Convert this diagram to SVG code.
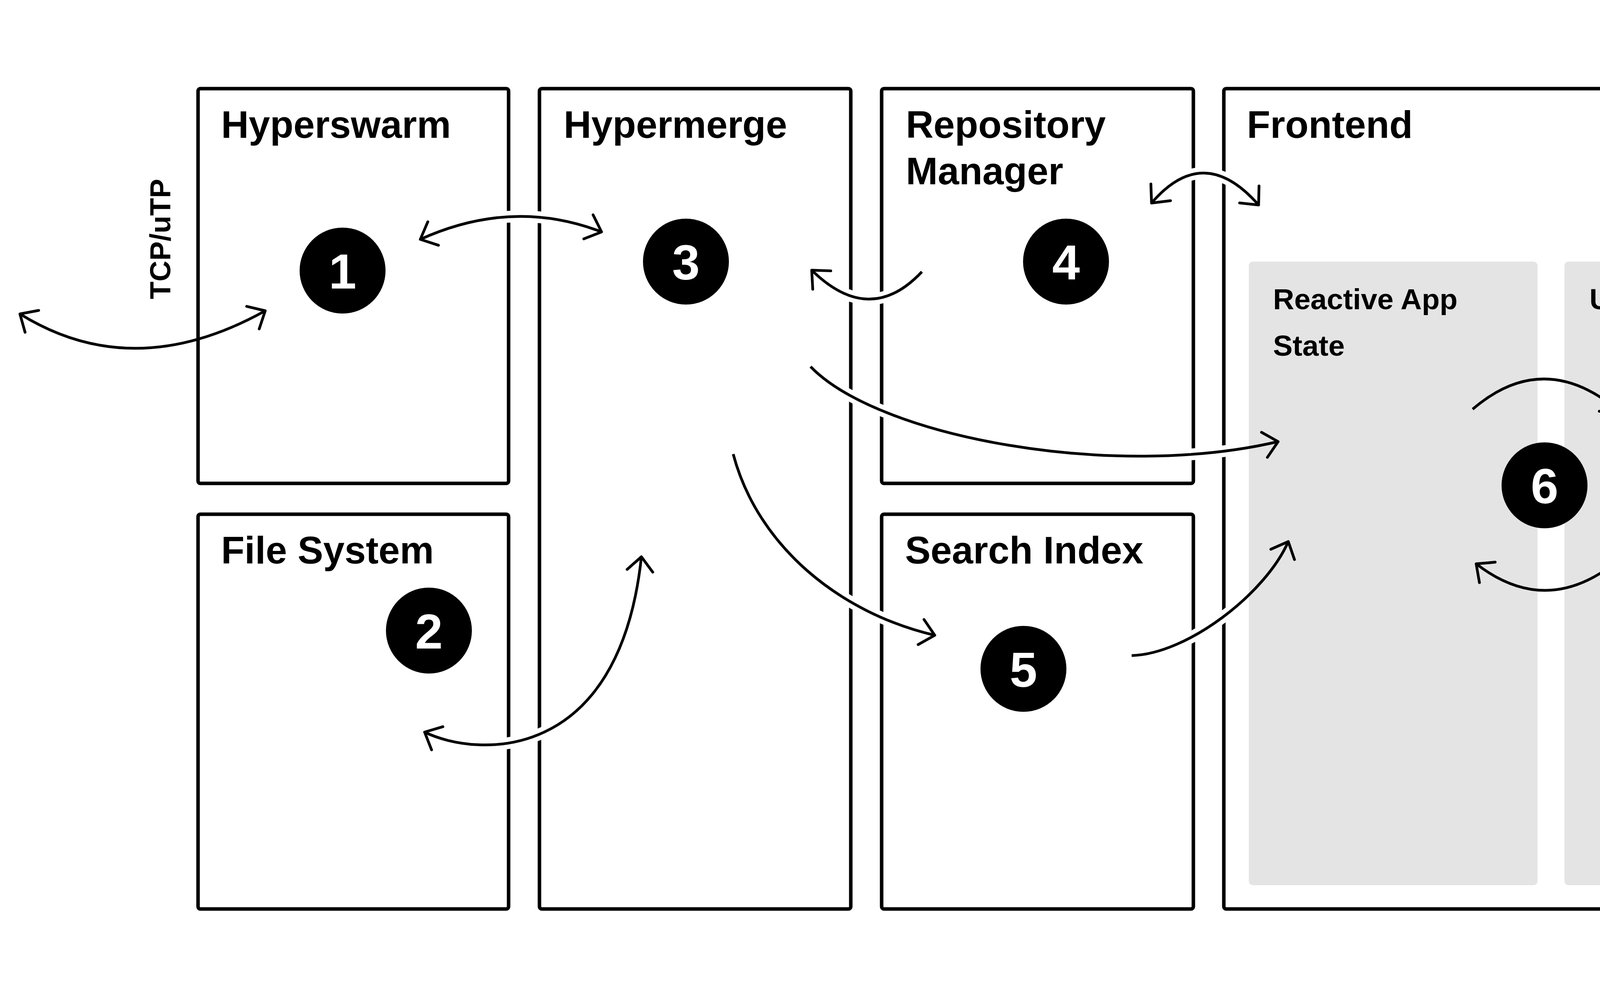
<svg xmlns="http://www.w3.org/2000/svg" width="5310" height="2556" viewBox="0 0 5310 2556">
  <style>
    .box { fill: #ffffff; stroke: #000000; stroke-width: 9; }
    .panel { fill: #e4e4e4; stroke: none; }
    .title { font-family: "Liberation Sans", Arial, sans-serif; font-weight: 700; font-size: 98px; fill: #000000; }
    .sub { font-family: "Liberation Sans", Arial, sans-serif; font-weight: 700; font-size: 75px; fill: #000000; }
    .proto { font-family: "Liberation Sans", Arial, sans-serif; font-weight: 700; font-size: 74px; fill: #000000; }
    .badge { fill: #000000; }
    .num { font-family: "Liberation Sans", Arial, sans-serif; font-weight: 700; font-size: 127px; fill: #ffffff; text-anchor: middle; }
    .halo { fill: none; stroke: #ffffff; stroke-width: 30; }
    .conn { fill: none; stroke: #000000; stroke-width: 7; }
    .one { marker-end: url(#head); }
    .two { marker-start: url(#head); marker-end: url(#head); }
  </style>
  <defs>
    <marker id="head" markerUnits="userSpaceOnUse" viewBox="-50 -45 60 90" refX="0" refY="0" markerWidth="60" markerHeight="90" orient="auto-start-reverse" overflow="visible">
      <path d="M -36 -33 L 0 0 L -36 33" fill="none" stroke="#000000" stroke-width="7" stroke-linecap="round" stroke-linejoin="round"/>
    </marker>
  </defs>
  <rect x="0" y="0" width="5310" height="2556" fill="#ffffff"/>

  <g id="node-hyperswarm">
    <rect class="box" x="507" y="227" width="795" height="1011" rx="6"/>
    <text class="title" x="566" y="353">Hyperswarm</text>
  </g>
  <g id="node-file-system">
    <rect class="box" x="507" y="1317" width="795" height="1011" rx="6"/>
    <text class="title" x="566" y="1443">File System</text>
  </g>
  <g id="node-hypermerge">
    <rect class="box" x="1381" y="227" width="797" height="2101" rx="6"/>
    <text class="title" x="1443" y="353">Hypermerge</text>
  </g>
  <g id="node-repository-manager">
    <rect class="box" x="2257" y="227" width="798" height="1011" rx="6"/>
    <text class="title" x="2319" y="353">Repository</text>
    <text class="title" x="2319" y="472">Manager</text>
  </g>
  <g id="node-search-index">
    <rect class="box" x="2257" y="1317" width="798" height="1011" rx="6"/>
    <text class="title" x="2317" y="1443">Search Index</text>
  </g>
  <g id="node-frontend">
    <rect class="box" x="3133" y="227" width="1673" height="2101" rx="6"/>
    <text class="title" x="3192" y="353">Frontend</text>
  </g>

  <g id="connector-gaps">
    <path class="halo" d="M 1076 613 Q 1312 506 1540 594"/>
    <path class="halo" d="M 1087 1875 C 1220 1940 1585 1960 1642 1426"/>
    <path class="halo" d="M 2360 696 Q 2227 838 2078 692"/>
    <path class="halo" d="M 2948 520 Q 3081 364 3222 525"/>
    <path class="halo" d="M 2075 939 C 2250 1120 2850 1230 3272 1131"/>
    <path class="halo" d="M 1877 1163 C 1940 1400 2150 1570 2393 1627"/>
    <path class="halo" d="M 2897 1679 C 3040 1675 3240 1520 3298 1387"/>
  </g>

  <g id="node-reactive-app-state">
    <rect class="panel" x="3197" y="670" width="739" height="1597" rx="10"/>
    <text class="sub" x="3259" y="792">Reactive App</text>
    <text class="sub" x="3259" y="911">State</text>
  </g>
  <g id="node-ui-framework">
    <rect class="panel" x="4005" y="670" width="738" height="1597" rx="10"/>
    <text class="sub" x="4069" y="792">UI Framework</text>
  </g>

  <g id="connectors">
    <path id="c-net-1" class="conn two" d="M 51 804 Q 341 984 679 796"/>
    <path id="c-1-3" class="conn two" d="M 1076 613 Q 1312 506 1540 594"/>
    <path id="c-2-3" class="conn two" d="M 1087 1875 C 1220 1940 1585 1960 1642 1426"/>
    <path id="c-4-3" class="conn one" d="M 2360 696 Q 2227 838 2078 692"/>
    <path id="c-4-frontend" class="conn two" d="M 2948 520 Q 3081 364 3222 525"/>
    <path id="c-3-state" class="conn one" d="M 2075 939 C 2250 1120 2850 1230 3272 1131"/>
    <path id="c-3-5" class="conn one" d="M 1877 1163 C 1940 1400 2150 1570 2393 1627"/>
    <path id="c-5-state" class="conn one" d="M 2897 1679 C 3040 1675 3240 1520 3298 1387"/>
    <path id="c-state-ui" class="conn one" d="M 3770 1048 Q 3952 892 4143 1051"/>
    <path id="c-ui-state" class="conn one" d="M 4129 1446 Q 3954 1579 3779 1444"/>
    <text class="proto" transform="translate(436 612) rotate(-90)" text-anchor="middle">TCP/uTP</text>
  </g>

  <g id="badges">
    <g id="badge-1"><circle class="badge" cx="877" cy="693" r="110"/><text class="num" x="877" y="739">1</text></g>
    <g id="badge-2"><circle class="badge" cx="1098" cy="1615" r="110"/><text class="num" x="1098" y="1661">2</text></g>
    <g id="badge-3"><circle class="badge" cx="1756" cy="670" r="110"/><text class="num" x="1756" y="716">3</text></g>
    <g id="badge-4"><circle class="badge" cx="2729" cy="670" r="110"/><text class="num" x="2729" y="716">4</text></g>
    <g id="badge-5"><circle class="badge" cx="2620" cy="1713" r="110"/><text class="num" x="2620" y="1759">5</text></g>
    <g id="badge-6"><circle class="badge" cx="3954" cy="1243" r="110"/><text class="num" x="3954" y="1289">6</text></g>
  </g>
</svg>
